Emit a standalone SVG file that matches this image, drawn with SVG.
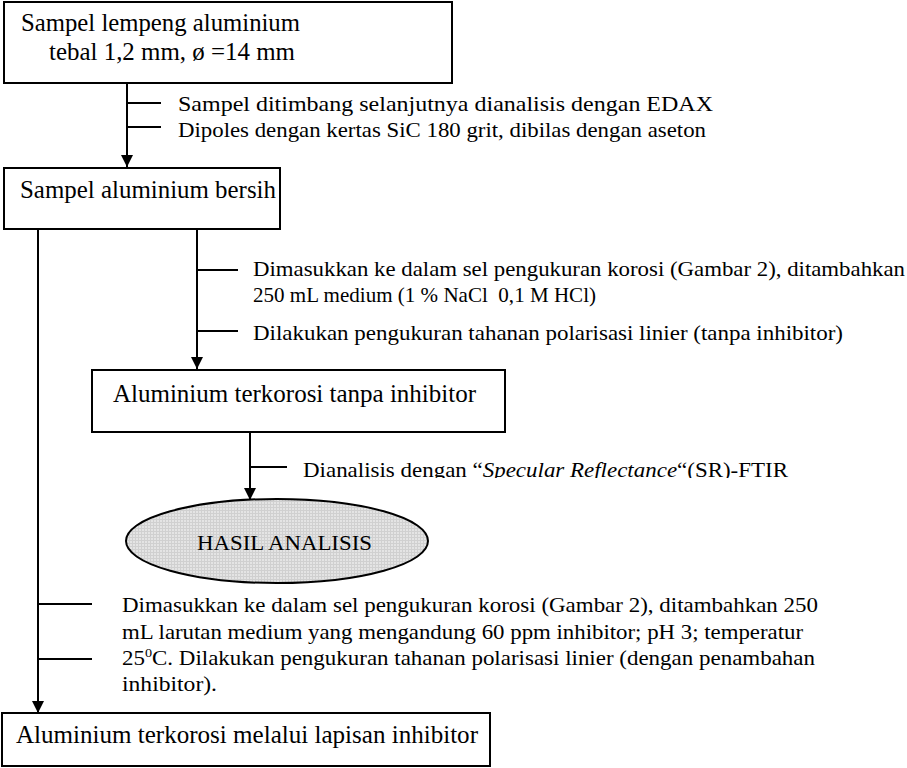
<svg xmlns="http://www.w3.org/2000/svg" width="907" height="768" viewBox="0 0 907 768">
<style>
text{font-family:"Liberation Serif","Times New Roman",serif;fill:#000}
.box{fill:#fff;stroke:#000;stroke-width:2}
.ln{stroke:#000;stroke-width:2;fill:none}
.t24{font-size:25px}
.t21{font-size:21px}
</style>
<defs>
<marker id="ah" markerUnits="userSpaceOnUse" markerWidth="14" markerHeight="14" refX="12" refY="6" orient="auto">
<path d="M0,0 L12,6 L0,12 Z" fill="#000"/>
</marker>
<pattern id="grid" width="3" height="3" patternUnits="userSpaceOnUse">
<rect width="3" height="3" fill="#e4e4e4"/>
<path d="M0,0.5H3M0.5,0V3" stroke="#d0d0d0" stroke-width="1"/>
</pattern>
<clipPath id="clipftir"><rect x="280" y="440" width="600" height="38"/></clipPath>
</defs>

<g id="connectors">
<line class="ln" x1="127" y1="83" x2="127" y2="167" marker-end="url(#ah)"/>
<line class="ln" x1="127" y1="103" x2="161" y2="103"/>
<line class="ln" x1="127" y1="127" x2="161" y2="127"/>
<line class="ln" x1="38" y1="229" x2="38" y2="713" marker-end="url(#ah)"/>
<line class="ln" x1="197" y1="229" x2="197" y2="369" marker-end="url(#ah)"/>
<line class="ln" x1="197" y1="270" x2="238" y2="270"/>
<line class="ln" x1="197" y1="331" x2="238" y2="331"/>
<line class="ln" x1="250" y1="432" x2="250" y2="500" marker-end="url(#ah)"/>
<line class="ln" x1="250" y1="467" x2="287" y2="467"/>
<line class="ln" x1="38" y1="604" x2="92" y2="604"/>
<line class="ln" x1="38" y1="659" x2="92" y2="659"/>
</g>

<g id="labels">
<text class="t21" x="178" y="111" textLength="535" lengthAdjust="spacingAndGlyphs">Sampel ditimbang selanjutnya dianalisis dengan EDAX</text>
<text class="t21" x="178" y="137" textLength="528" lengthAdjust="spacingAndGlyphs">Dipoles dengan kertas SiC 180 grit, dibilas dengan aseton</text>
<text class="t21" x="253" y="276" textLength="652" lengthAdjust="spacingAndGlyphs">Dimasukkan ke dalam sel pengukuran korosi (Gambar 2), ditambahkan</text>
<text class="t21" x="253" y="302" textLength="343" lengthAdjust="spacingAndGlyphs" xml:space="preserve">250 mL medium (1 % NaCl  0,1 M HCl)</text>
<text class="t21" x="253" y="340" textLength="590" lengthAdjust="spacingAndGlyphs">Dilakukan pengukuran tahanan polarisasi linier (tanpa inhibitor)</text>
<g clip-path="url(#clipftir)">
<text class="t21" x="303" y="477" textLength="485" lengthAdjust="spacingAndGlyphs">Dianalisis dengan “<tspan font-style="italic">Specular Reflectance</tspan>“(SR)-FTIR</text>
</g>
<text class="t21" x="122" y="612" textLength="696" lengthAdjust="spacingAndGlyphs">Dimasukkan ke dalam sel pengukuran korosi (Gambar 2), ditambahkan 250</text>
<text class="t21" x="122" y="639" textLength="681" lengthAdjust="spacingAndGlyphs">mL larutan medium yang mengandung 60 ppm inhibitor; pH 3; temperatur</text>
<text class="t21" x="122" y="665" textLength="693" lengthAdjust="spacingAndGlyphs">25<tspan font-size="13" dy="-8">0</tspan><tspan dy="8">C. Dilakukan pengukuran tahanan polarisasi linier (dengan penambahan</tspan></text>
<text class="t21" x="122" y="691" textLength="95" lengthAdjust="spacingAndGlyphs">inhibitor).</text>
</g>

<g id="node-sampel-lempeng">
<rect class="box" x="4" y="2" width="448" height="81"/>
<text class="t24" x="21" y="31" textLength="279" lengthAdjust="spacingAndGlyphs">Sampel lempeng aluminium</text>
<text class="t24" x="49" y="60" textLength="246" lengthAdjust="spacingAndGlyphs">tebal 1,2 mm, ø =14 mm</text>
</g>

<g id="node-sampel-bersih">
<rect class="box" x="4" y="168" width="276" height="61"/>
<text class="t24" x="20" y="198" textLength="256" lengthAdjust="spacingAndGlyphs">Sampel aluminium bersih</text>
</g>

<g id="node-tanpa-inhibitor">
<rect class="box" x="92" y="370" width="413" height="62"/>
<text class="t24" x="113" y="402" textLength="363" lengthAdjust="spacingAndGlyphs">Aluminium terkorosi tanpa inhibitor</text>
</g>

<g id="node-hasil">
<ellipse cx="277" cy="541" rx="151" ry="42" fill="url(#grid)" stroke="#000" stroke-width="2"/>
<text class="t21" x="197" y="550" textLength="175" lengthAdjust="spacingAndGlyphs">HASIL ANALISIS</text>
</g>

<g id="node-lapisan-inhibitor">
<rect class="box" x="2" y="713" width="488" height="53"/>
<text class="t24" x="16" y="743" textLength="462" lengthAdjust="spacingAndGlyphs">Aluminium terkorosi melalui lapisan inhibitor</text>
</g>
</svg>
